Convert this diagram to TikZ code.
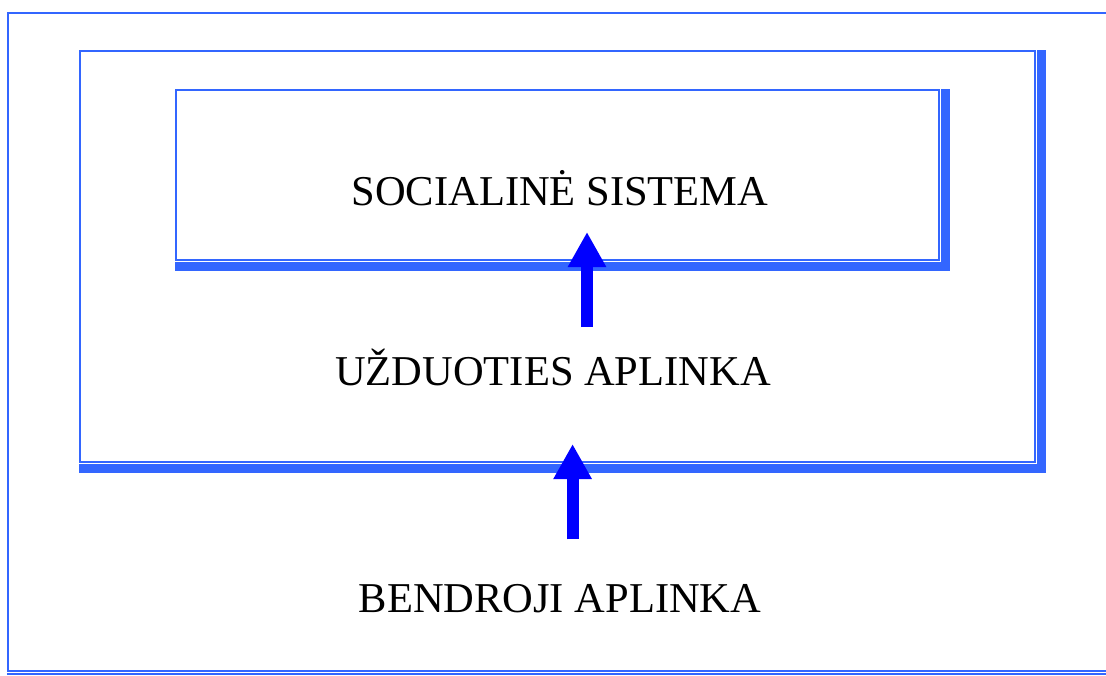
\documentclass[tikz,border=0pt]{standalone}
\usepackage{fontspec}
\setmainfont{Liberation Serif}
\usetikzlibrary{arrows.meta}
\definecolor{framecol}{RGB}{51,102,255}
\definecolor{arrowcol}{RGB}{0,0,255}
\tikzset{
  frameline/.style={draw=framecol, line width=2.1pt},
  shadowbar/.style={fill=framecol, draw=none},
  label/.style={font=\fontsize{42.5}{50}\selectfont, anchor=base, inner sep=0pt},
  bigarrow/.style={draw=arrowcol, line width=12pt,
    -{Triangle[width=36pt,length=35pt]}},
}
\begin{document}
\begin{tikzpicture}[x=1pt, y=-1pt]
  \useasboundingbox (0,0) rectangle (1106,675);

  % outer frame (open on the right), double rule at the bottom
  \draw[frameline] (1106,13.1) -- (8.2,13.1) -- (8.2,670.8) -- (1106,670.8);
  \fill[shadowbar] (7.2,672.7) rectangle (1106,675);

  % middle box with its shadow
  \fill[shadowbar] (1037,50.1) rectangle (1046,472.7);
  \fill[shadowbar] (79.1,463.7) rectangle (1046,472.7);
  \draw[frameline] (80.2,51.2) rectangle (1035,461.9);

  % inner box with its shadow
  \fill[shadowbar] (941,89.1) rectangle (950,270.7);
  \fill[shadowbar] (175.1,262) rectangle (950,270.7);
  \draw[frameline] (176.2,90.2) rectangle (939.2,259.9);

  % labels
  \node[label] (soc) at (560,205) {SOCIALINĖ SISTEMA};
  \node[label] (uzd) at (553,385) {UŽDUOTIES APLINKA};
  \node[label] (ben) at (560,612) {BENDROJI APLINKA};

  % arrow end points
  \coordinate (a1s) at (587,327);
  \coordinate (a1t) at (587,232);
  \coordinate (a2s) at (572.6,539.3);
  \coordinate (a2t) at (572.6,444);

  \draw[bigarrow] (a1s) -- (a1t);
  \draw[bigarrow] (a2s) -- (a2t);
\end{tikzpicture}
\end{document}
